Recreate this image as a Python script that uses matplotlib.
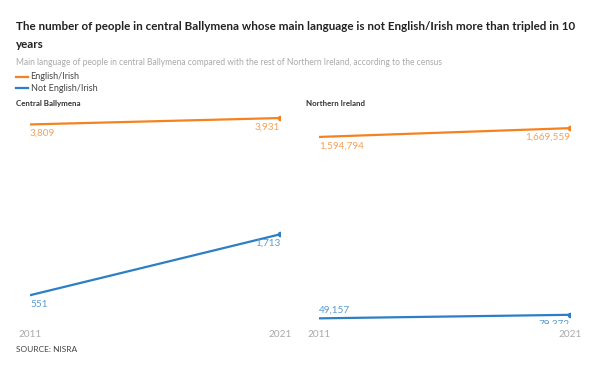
import matplotlib.pyplot as plt

years = [2011, 2021]
ballymena_english = [3809, 3931]
ballymena_other = [551, 1713]
ni_english = [1594794, 1669559]
ni_other = [49157, 79372]

orange = "#f5821f"
blue = "#2c7fc4"
orange_lbl = "#f4a25a"
blue_lbl = "#5b9ad0"

plt.rcParams['font.family'] = ['Lato', 'DejaVu Sans']

fig = plt.figure(figsize=(6, 3.7), dpi=100)

fig.text(0.027, 0.928, "The number of people in central Ballymena whose main language is not English/Irish more than tripled in 10",
         fontsize=8.4, fontweight='bold', color='#222222', va='center')
fig.text(0.027, 0.879, "years", fontsize=8.4, fontweight='bold', color='#222222', va='center')
fig.text(0.027, 0.832, "Main language of people in central Ballymena compared with the rest of Northern Ireland, according to the census",
         fontsize=6.15, color='#aaaaaa', va='center')

# legend
for i, (lbl, c) in enumerate([("English/Irish", orange), ("Not English/Irish", blue)]):
    y = 0.793 - i * 0.032
    fig.add_artist(plt.Line2D([0.026, 0.047], [y, y], color=c, lw=1.6, transform=fig.transFigure))
    fig.text(0.051, y, lbl, fontsize=6.5, color='#444444', va='center')

fig.text(0.027, 0.72, "Central Ballymena", fontsize=5.7, fontweight='bold', color='#333333', va='center')
fig.text(0.51, 0.72, "Northern Ireland", fontsize=5.7, fontweight='bold', color='#333333', va='center')
fig.text(0.027, 0.055, "SOURCE: NISRA", fontsize=6, color='#444444', va='center')


def panel(ax, eng, oth, ymax, above):
    ax.plot(years, eng, color=orange, lw=1.6)
    ax.plot(years, oth, color=blue, lw=1.6)
    ax.plot(years[1], eng[1], 'o', color=orange, ms=3)
    ax.plot(years[1], oth[1], 'o', color=blue, ms=3)
    ax.set_xlim(2011, 2021)
    ax.set_ylim(0, ymax)
    for s in ax.spines.values():
        s.set_visible(False)
    ax.axhline(0, color='#eeeeee', lw=0.8)
    ax.set_yticks([])
    ax.set_xticks(years)
    ax.set_xticklabels([str(y) for y in years], fontsize=7.2, color='#aaaaaa')
    ax.tick_params(axis='x', length=0, pad=4)
    for series, col in [(eng, orange_lbl), (oth, blue_lbl)]:
        for j, v in enumerate(series):
            dy = 6 if (col, j) in above else -6.5
            ha = 'left' if j == 0 else 'right'
            clip = dy < 0 and v < ymax * 0.1
            ax.annotate(f"{v:,}", (years[j], v), xytext=(0, dy), textcoords='offset points',
                        ha=ha, va='center', fontsize=7.2, color=col,
                        annotation_clip=False, clip_on=clip)


ax1 = fig.add_axes([0.05, 0.124, 0.4167, 0.571])
panel(ax1, ballymena_english, ballymena_other, 4030, [])
ax2 = fig.add_axes([0.532, 0.124, 0.418, 0.571])
panel(ax2, ni_english, ni_other, 1800000, [(blue_lbl, 0)])

fig.savefig("out.png", dpi=100)
